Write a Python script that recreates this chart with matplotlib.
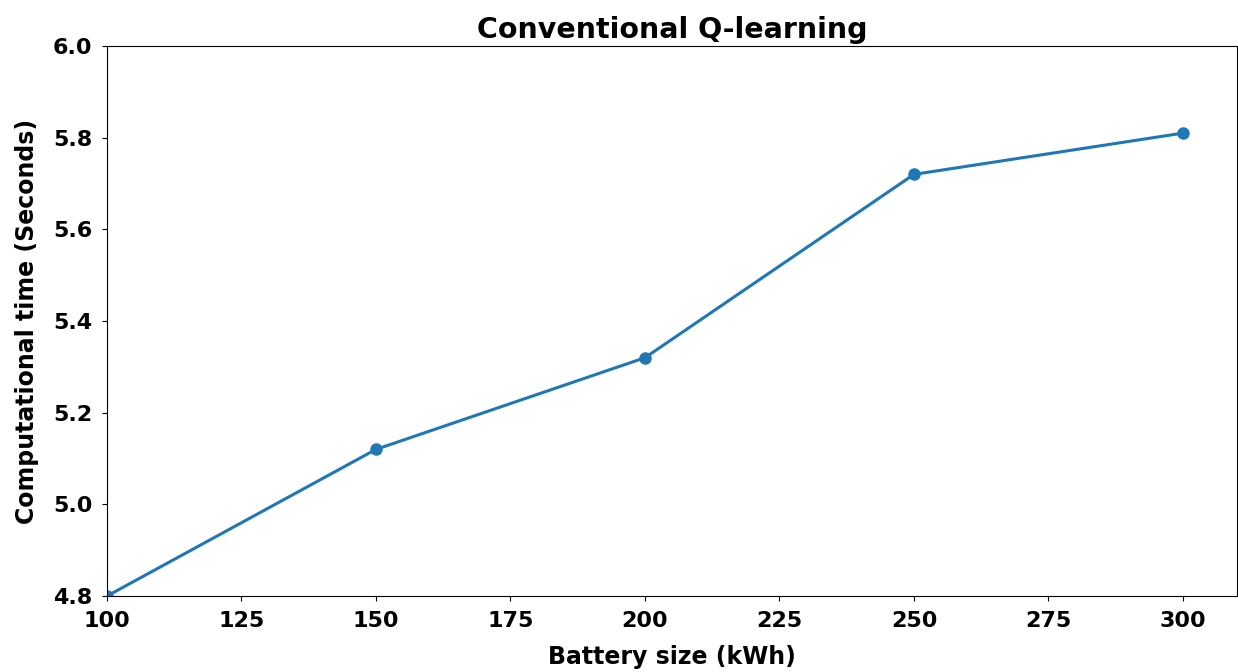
import numpy as np
import matplotlib.pyplot as plt

# battery sizes and measured computation times
battery_size = [100, 150, 200, 250, 300]
comp_time = [4.80, 5.12, 5.32, 5.72, 5.81]

fig = plt.figure(figsize=(12.38, 6.72), dpi=100)
ax = fig.add_axes([0.0864, 0.113, 0.9126, 0.8185])
ax.plot(battery_size, comp_time, marker='o', color='#1f77b4', linewidth=2.2, markersize=8)
ax.set_xlim(100, 310)
ax.set_ylim(4.8, 6.0)
ax.set_xticks(np.arange(100, 301, 25))
ax.tick_params(axis='both', pad=7)
ax.set_title('Conventional Q-learning', fontsize=20.5, fontweight='bold')
ax.set_xlabel('Battery size (kWh)', fontsize=17, fontweight='bold', labelpad=10)
ax.set_ylabel('Computational time (Seconds)', fontsize=17, fontweight='bold', labelpad=10)
for lab in ax.get_xticklabels() + ax.get_yticklabels():
    lab.set_fontsize(16)
    lab.set_fontweight('bold')
fig.savefig('out.png', dpi=100)
